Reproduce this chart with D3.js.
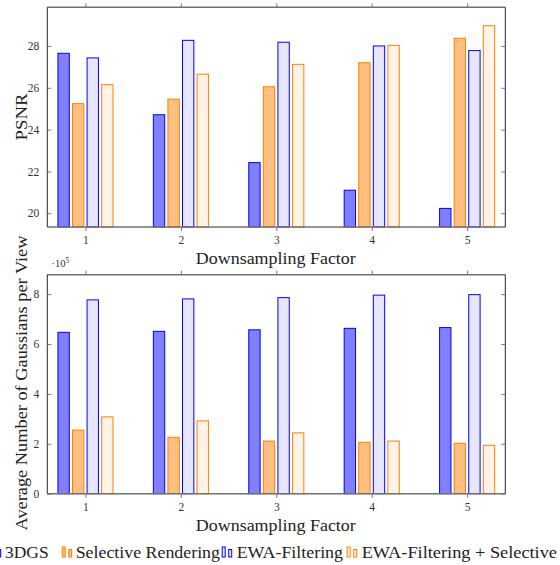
<!DOCTYPE html>
<html>
<head>
<meta charset="utf-8">
<script src="https://cdn.jsdelivr.net/npm/d3@7"></script>
<style>
  body { margin: 0; background: #fff; }
  svg { display: block; }
</style>
</head>
<body>
<div id="chart"></div>
<script>
// data
const FACTORS = [1, 2, 3, 4, 5];
const SERIES = ['3DGS', 'Selective Rendering', 'EWA-Filtering', 'EWA-Filtering + Selective'];

const PSNR_3DGS = [27.65, 24.71, 22.42, 21.10, 20.23];
const PSNR_SELECTIVE = [25.24, 25.46, 26.05, 27.20, 28.37];
const PSNR_EWA = [27.43, 28.27, 28.18, 28.00, 27.78];
const PSNR_EWA_SELECTIVE = [26.15, 26.65, 27.12, 28.03, 28.97];

const GAUSS_3DGS = [647000, 651000, 657000, 663000, 666000];
const GAUSS_SELECTIVE = [255000, 226000, 211000, 206000, 202000];
const GAUSS_EWA = [777000, 781000, 786000, 796000, 798000];
const GAUSS_EWA_SELECTIVE = [308000, 292000, 244000, 211000, 194000];

const PSNR_TICKS = [20, 22, 24, 26, 28];
const GAUSS_TICKS = [0, 200000, 400000, 600000, 800000];

// styles per series
const FILLS = ['#8080ff', '#ffbf80', '#e6e6ff', '#fff2e6'];
const STROKES = ['#0000ff', '#ff8000', '#0000ff', '#ff8000'];
const FONT = '"Liberation Serif"';

// dimensions
const WIDTH = 560;
const HEIGHT = 565;
const PLOT_LEFT = 47.3;
const PLOT_RIGHT = 505.3;

const $svg = d3.select('#chart').append('svg')
  .attr('width', WIDTH)
  .attr('height', HEIGHT);

const x = d3.scaleLinear().domain([0.6, 5.4]).range([PLOT_LEFT, PLOT_RIGHT]);
const BAR_STEP = 14.57;
const xSeries = d3.scaleBand()
  .domain(SERIES)
  .range([-2 * BAR_STEP, 2 * BAR_STEP])
  .paddingInner(0.22)
  .paddingOuter(0.11);

function drawPanel(cfg) {
  const y = d3.scaleLinear().domain(cfg.domain).range([cfg.bottom, cfg.top]);
  const $g = $svg.append('g').attr('class', 'panel');

  const rows = [];
  cfg.series.forEach((vals, si) => {
    vals.forEach((v, i) => rows.push({ s: SERIES[si], si, f: FACTORS[i], v }));
  });

  // bars
  $g.append('g').selectAll('rect')
    .data(rows)
    .join('rect')
    .attr('x', d => x(d.f) + xSeries(d.s))
    .attr('width', xSeries.bandwidth())
    .attr('y', d => y(d.v))
    .attr('height', d => cfg.bottom - y(d.v))
    .attr('fill', d => FILLS[d.si])
    .attr('stroke', d => STROKES[d.si])
    .attr('stroke-width', 1);

  // frame
  const $frame = $g.append('g');
  [cfg.top, cfg.bottom].forEach(yy => {
    $frame.append('line')
      .attr('x1', PLOT_LEFT).attr('x2', PLOT_RIGHT)
      .attr('y1', yy).attr('y2', yy)
      .attr('stroke', '#707070').attr('stroke-width', 1.4);
  });
  [PLOT_LEFT, PLOT_RIGHT].forEach(xx => {
    $frame.append('line')
      .attr('x1', xx).attr('x2', xx)
      .attr('y1', cfg.top).attr('y2', cfg.bottom)
      .attr('stroke', '#262626').attr('stroke-width', 1);
  });

  // x axis (bottom, ticks outward) + mirrored top ticks
  const $xAxis = $g.append('g')
    .attr('transform', `translate(0,${cfg.bottom})`)
    .call(d3.axisBottom(x).tickValues(FACTORS).tickSize(4).tickPadding(5).tickFormat(d3.format('d')));
  $xAxis.select('.domain').remove();
  $xAxis.selectAll('.tick line').attr('stroke', '#777');

  const $xTop = $g.append('g')
    .attr('transform', `translate(0,${cfg.top})`)
    .call(d3.axisTop(x).tickValues(FACTORS).tickSize(4).tickFormat(''));
  $xTop.select('.domain').remove();
  $xTop.selectAll('.tick line').attr('stroke', '#777');

  // y axis (ticks inward on both sides)
  const $yAxis = $g.append('g')
    .attr('transform', `translate(${PLOT_LEFT},0)`)
    .call(d3.axisLeft(y).tickValues(cfg.ticks).tickSize(-4).tickPadding(8).tickFormat(cfg.format));
  $yAxis.select('.domain').remove();
  $yAxis.selectAll('.tick line').attr('stroke', '#777');

  const $yRight = $g.append('g')
    .attr('transform', `translate(${PLOT_RIGHT},0)`)
    .call(d3.axisRight(y).tickValues(cfg.ticks).tickSize(-4).tickFormat(''));
  $yRight.select('.domain').remove();
  $yRight.selectAll('.tick line').attr('stroke', '#777');

  $g.selectAll('.tick text')
    .attr('fill', '#333')
    .style('font-family', FONT)
    .style('font-size', '11.5px');

  // axis titles
  $g.append('text')
    .attr('x', (PLOT_LEFT + PLOT_RIGHT) / 2 - 0.5)
    .attr('y', cfg.xTitleY)
    .attr('text-anchor', 'middle')
    .attr('fill', '#222')
    .attr('textLength', 160)
    .attr('lengthAdjust', 'spacingAndGlyphs')
    .style('font-family', FONT)
    .style('font-size', '16px')
    .text('Downsampling Factor');

  $g.append('text')
    .attr('transform', `translate(27,${cfg.yTitleCenter}) rotate(-90)`)
    .attr('text-anchor', 'middle')
    .attr('fill', '#222')
    .attr('textLength', cfg.yTitleLength)
    .attr('lengthAdjust', 'spacingAndGlyphs')
    .style('font-family', FONT)
    .style('font-size', '16px')
    .text(cfg.yTitle);

  return $g;
}

drawPanel({
  top: 7.3,
  bottom: 227,
  domain: [19.34, 29.85],
  ticks: PSNR_TICKS,
  format: d3.format('d'),
  series: [PSNR_3DGS, PSNR_SELECTIVE, PSNR_EWA, PSNR_EWA_SELECTIVE],
  xTitleY: 264,
  yTitle: 'PSNR',
  yTitleCenter: 117,
  yTitleLength: 47
});

const $bottom = drawPanel({
  top: 274.7,
  bottom: 493.7,
  domain: [0, 878000],
  ticks: GAUSS_TICKS,
  format: d => d3.format('d')(d / 1e5),
  series: [GAUSS_3DGS, GAUSS_SELECTIVE, GAUSS_EWA, GAUSS_EWA_SELECTIVE],
  xTitleY: 531,
  yTitle: 'Average Number of Gaussians per View',
  yTitleCenter: 383,
  yTitleLength: 295
});

// exponent label
const $exp = $bottom.append('text')
  .attr('x', 51.5)
  .attr('y', 266.5)
  .attr('fill', '#333')
  .style('font-family', FONT)
  .style('font-size', '10.5px');
$exp.append('tspan').text('·10');
$exp.append('tspan').attr('dy', -4).style('font-size', '7.5px').text('5');

// legend
const LEGEND_ICON_X = [-9.3, 61.7, 221.7, 346.7];
const LEGEND_TEXT_X = [5, 75.7, 236.7, 361.7];
const LEGEND_TEXT_W = [43.7, 144.3, 106.3, 195.3];
const LEGEND_BASE = 557;

const $legend = $svg.append('g').attr('class', 'legend');
const $items = $legend.selectAll('g')
  .data(SERIES)
  .join('g');

$items.each(function(d, i) {
  const $it = d3.select(this);
  const x0 = LEGEND_ICON_X[i];
  $it.append('rect')
    .attr('x', x0 + 0.5).attr('y', LEGEND_BASE - 10)
    .attr('width', 3).attr('height', 10)
    .attr('fill', FILLS[i]).attr('stroke', STROKES[i]).attr('stroke-width', 1);
  $it.append('rect')
    .attr('x', x0 + 7).attr('y', LEGEND_BASE - 7.5)
    .attr('width', 3).attr('height', 7.5)
    .attr('fill', FILLS[i]).attr('stroke', STROKES[i]).attr('stroke-width', 1);
  $it.append('text')
    .attr('x', LEGEND_TEXT_X[i])
    .attr('y', LEGEND_BASE + 1)
    .attr('fill', '#222')
    .attr('textLength', LEGEND_TEXT_W[i])
    .attr('lengthAdjust', 'spacingAndGlyphs')
    .style('font-family', FONT)
    .style('font-size', '16px')
    .text(d);
});
</script>
</body>
</html>
